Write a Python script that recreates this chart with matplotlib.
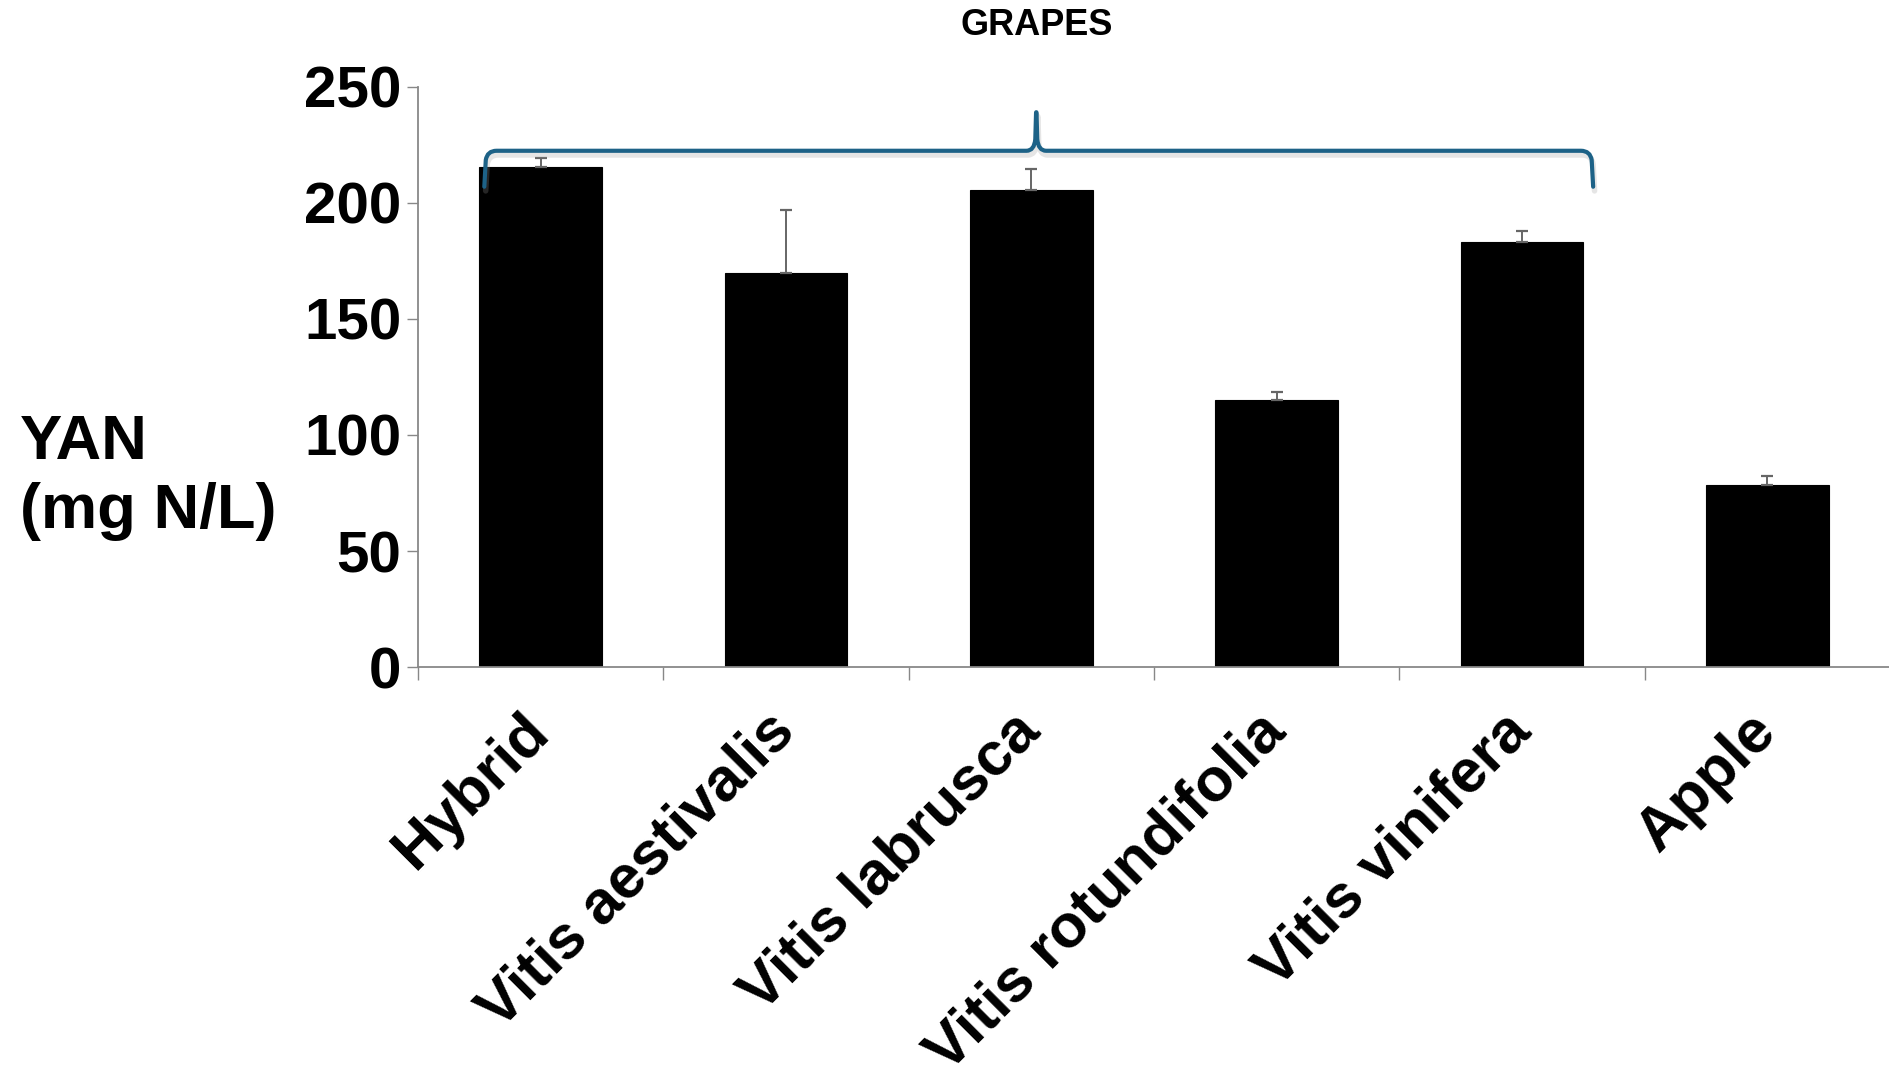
import numpy as np
import matplotlib
matplotlib.use('Agg')
import matplotlib.pyplot as plt
import matplotlib.patheffects as pe
from matplotlib.path import Path
from matplotlib.patches import PathPatch

plt.rcParams['font.family'] = ['Liberation Sans', 'DejaVu Sans']

# data
categories = ['Hybrid', 'Vitis aestivalis', 'Vitis labrusca',
              'Vitis rotundifolia', 'Vitis vinifera', 'Apple']
yan = [215.5, 170, 205.5, 115, 183, 78.5]
yan_err = [4, 27, 9, 3.5, 5, 4]
y_ticks = [0, 50, 100, 150, 200, 250]

# brace over the grape varieties (in data units)
brace_x0, brace_x1, brace_xm = -0.23, 4.29, 2.02
brace_line, brace_end, brace_peak = 222.5, 207, 239.5

fig = plt.figure(figsize=(18.9, 10.83), dpi=100)
ax = fig.add_axes([0.2212, 0.3841, 0.7788, 0.5356])

x = np.arange(len(categories))
ax.bar(x, yan, width=0.5, color='black', edgecolor='black', linewidth=0.8, zorder=2)
ax.errorbar(x, yan, yerr=[np.zeros(len(yan_err)), yan_err], fmt='none',
            ecolor='#666666', elinewidth=1.4, capsize=4, capthick=1.6, zorder=3)

ax.set_xlim(-0.5, len(categories) - 0.5)
ax.set_ylim(0, 250)
ax.set_yticks(y_ticks)
ax.set_yticklabels([str(v) for v in y_ticks], fontsize=42, fontweight='bold')

ax.set_xticks(x)
ax.set_xticklabels(categories, fontsize=44, fontweight='bold', rotation=45,
                   ha='right', va='center', rotation_mode='anchor')
ax.set_xticks(np.arange(len(categories) + 1) - 0.5, minor=True)
ax.tick_params(axis='x', which='major', length=0, pad=40)
ax.tick_params(axis='x', which='minor', length=9, width=1, color='#888888')
ax.tick_params(axis='y', length=8, width=1, color='#888888', pad=4)

for s in ['top', 'right']:
    ax.spines[s].set_visible(False)
for s in ['left', 'bottom']:
    ax.spines[s].set_color('#888888')
    ax.spines[s].set_linewidth(1.3)

# curly brace
xl, xr, xm = brace_x0, brace_x1, brace_xm
yl, ye, yp = brace_line, brace_end, brace_peak
verts = [(xl, ye), (xl + 0.006, yl - 4),
         (xl + 0.012, yl), (xl + 0.05, yl),
         (xm - 0.04, yl),
         (xm - 0.008, yl), (xm - 0.004, yl + 5),
         (xm - 0.001, yp - 1),
         (xm, yp + 0.6), (xm + 0.001, yp - 1),
         (xm + 0.004, yl + 5),
         (xm + 0.008, yl), (xm + 0.04, yl),
         (xr - 0.05, yl),
         (xr - 0.012, yl), (xr - 0.006, yl - 4),
         (xr, ye)]
codes = [Path.MOVETO, Path.LINETO,
         Path.CURVE3, Path.CURVE3,
         Path.LINETO,
         Path.CURVE3, Path.CURVE3,
         Path.LINETO,
         Path.CURVE3, Path.CURVE3,
         Path.LINETO,
         Path.CURVE3, Path.CURVE3,
         Path.LINETO,
         Path.CURVE3, Path.CURVE3,
         Path.LINETO]
brace = PathPatch(Path(verts, codes), facecolor='none', edgecolor='#1d6287',
                  linewidth=3.0, clip_on=False, zorder=4, capstyle='round',
                  joinstyle='round')
brace.set_path_effects([pe.Stroke(offset=(1, -3), linewidth=4,
                                  foreground='#999999', alpha=0.25),
                        pe.Normal()])
ax.add_patch(brace)

fig.text(0.5487, 0.976, 'GRAPES', fontsize=26, fontweight='bold',
         ha='center', va='center')
fig.text(0.0106, 0.5596, 'YAN\n(mg N/L)', fontsize=45.5, fontweight='bold',
         ha='left', va='center', multialignment='left', linespacing=1.2)

fig.savefig('out.png', dpi=100)
